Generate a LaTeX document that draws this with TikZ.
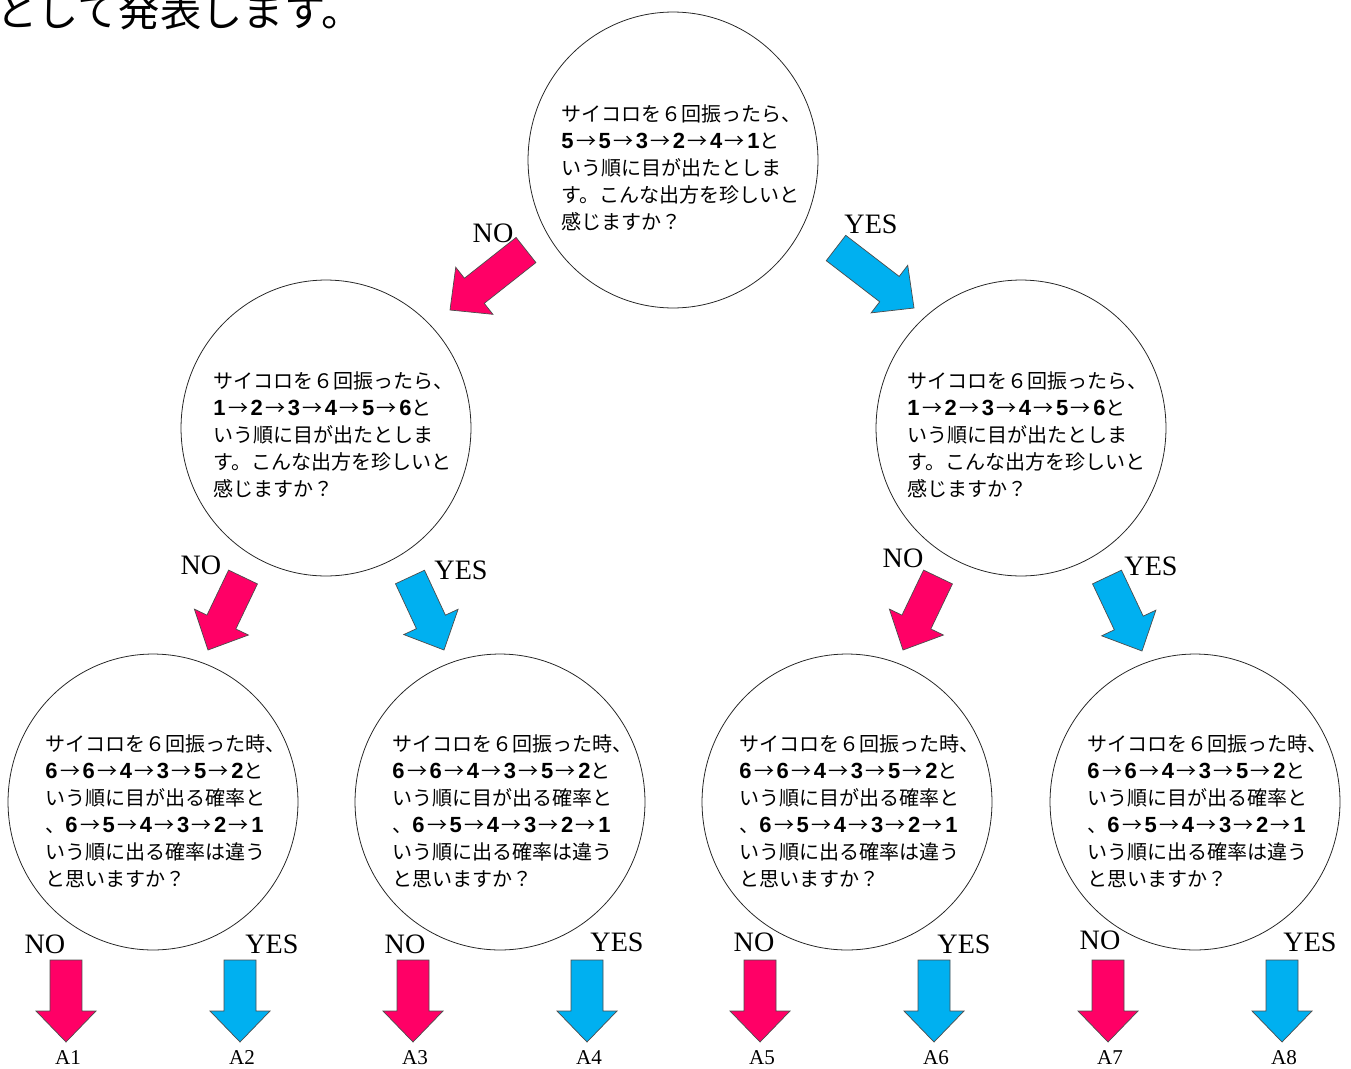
\documentclass[tikz,border=0pt]{standalone}
\usepackage{fontspec}
\setmainfont{Liberation Serif}
\newfontfamily\jpfont{Noto Sans CJK JP}
\newfontfamily\numfont{Liberation Sans}
\usetikzlibrary{calc,shapes.geometric}

\definecolor{nopink}{HTML}{FF0066}
\definecolor{yesblue}{HTML}{00B0F0}

\newcommand\ra{\makebox[0.5cm]{\mdseries\jpfont\fontsize{11.4}{15.4}\selectfont →}}
\newcommand\dice[6]{{\numfont\fontsize{12.5}{15.4}\selectfont\bfseries
    #1\ra#2\ra#3\ra#4\ra#5\ra#6}}

% block arrow: fill colour, tail, tip
\newcommand\blockarrow[3]{%
    \coordinate (hb) at ($(#3)!0.62cm!(#2)$);
    \draw [barrow, fill=#1] ($(#2)!0.32cm!90:(#3)$) -- ($(hb)!0.32cm!-90:(#2)$)
        -- ($(hb)!0.6cm!-90:(#2)$) -- (#3) -- ($(hb)!0.6cm!90:(#2)$)
        -- ($(hb)!0.32cm!90:(#2)$) -- ($(#2)!0.32cm!-90:(#3)$) -- cycle;}

\begin{document}
\begin{tikzpicture}[%
        x=0.02cm, y=-0.02cm,
        question/.style={draw=black!85, line width=0.45pt, ellipse, inner sep=0pt,
            minimum width=5.8cm, minimum height=5.92cm},
        qtext/.style={anchor=west, align=left, inner sep=0pt,
            font=\jpfont\fontsize{11.4}{15.4}\selectfont},
        barrow/.style={draw=black!70, line width=0.4pt, line join=miter},
        answer/.style={inner sep=0pt, font=\fontsize{16}{16}\selectfont},
        leaf/.style={anchor=base, inner sep=0pt, font=\fontsize{12}{12}\selectfont}
    ]
        \useasboundingbox (0,0) rectangle (1351,1068);

        \node [anchor=base west, inner sep=0pt, font=\jpfont\fontsize{23.5}{23.5}\selectfont]
            (title) at (-4,27) {として発表します。};

        % first question
        \node [question] (q0) at (673,160) {};
        \node [qtext] (t0) at (561,168) {%
            サイコロを６回振ったら、\\
            \dice{5}{5}{3}{2}{4}{1}と\\
            いう順に目が出たとしま\\
            す。こんな出方を珍しいと\\
            感じますか？};

        % second questions
        \foreach \n/\cx/\tx in {1/326/213, 2/1021/907} {
            \node [question] (q\n) at (\cx,428) {};
            \node [qtext] (t\n) at (\tx,435) {%
                サイコロを６回振ったら、\\
                \dice{1}{2}{3}{4}{5}{6}と\\
                いう順に目が出たとしま\\
                す。こんな出方を珍しいと\\
                感じますか？};
        }

        % third questions
        \foreach \n/\cx in {3/153, 4/500, 5/847, 6/1195} {
            \node [question] (q\n) at (\cx,802) {};
            \node [qtext] (t\n) at (\cx-108,811) {%
                サイコロを６回振った時、\\
                \dice{6}{6}{4}{3}{5}{2}と\\
                いう順に目が出る確率と\\
                、\dice{6}{5}{4}{3}{2}{1}\\
                いう順に出る確率は違う\\
                と思いますか？};
        }

        % branches between the questions
        \foreach \n/\col/\txt/\sx/\sy/\ex/\ey/\lx/\ly in
            {0n/nopink/NO/526/250/450/310/493/233,
             0y/yesblue/YES/836/248/914/308/871/224,
             1n/nopink/NO/243/577/208/650/201/565,
             1y/yesblue/YES/410/577/444/650/461/570,
             2n/nopink/NO/938/577/903/650/903/558,
             2y/yesblue/YES/1107/577/1142/651/1151/566} {
            \coordinate (s\n) at (\sx,\sy);
            \coordinate (e\n) at (\ex,\ey);
            \blockarrow{\col}{s\n}{e\n}
            \node [answer] (l\n) at (\lx,\ly) {\txt};
        }

        % answers
        \foreach \i/\x/\col/\txt/\lx/\ly in
            {1/66/nopink/NO/45/944, 2/240/yesblue/YES/272/944,
             3/413/nopink/NO/405/944, 4/587/yesblue/YES/617/942,
             5/760/nopink/NO/754/942, 6/934/yesblue/YES/964/944,
             7/1108/nopink/NO/1100/940, 8/1282/yesblue/YES/1310/942} {
            \coordinate (sa\i) at (\x,960);
            \coordinate (ea\i) at (\x,1042);
            \blockarrow{\col}{sa\i}{ea\i}
            \node [answer] (la\i) at (\lx,\ly) {\txt};
            \node [leaf] (a\i) at (\x+2,1064) {A\i};
        }
    \end{tikzpicture}
\end{document}
